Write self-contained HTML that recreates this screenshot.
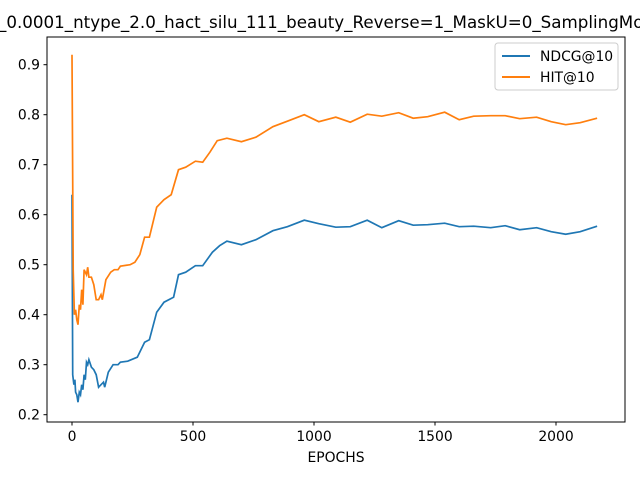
<!DOCTYPE html>
<html><head><meta charset="utf-8"><style>
body{margin:0;background:#fff}
svg{display:block;font-family:"DejaVu Sans","Liberation Sans",sans-serif}
</style></head><body>
<svg width="640" height="480" viewBox="0 0 640 480">
<rect width="640" height="480" fill="#fff"/>
<text x="-2" y="28" font-size="16.7" fill="#000">_0.0001_ntype_2.0_hact_silu_111_beauty_Reverse=1_MaskU=0_SamplingMode</text>
<g id="plot"></g>
<rect x="47" y="37" width="578" height="385" fill="none" stroke="#000" stroke-width="1"/>
<g id="axes"></g>
<text x="336" y="462" font-size="13.9" text-anchor="middle">EPOCHS</text>
<g>
<rect x="495" y="43" width="123" height="47" rx="3" fill="#fff" fill-opacity="0.8" stroke="#ccc"/>
<line x1="502" y1="56" x2="530" y2="56" stroke="#1f77b4" stroke-width="2"/>
<text x="540" y="61" font-size="13.9">NDCG@10</text>
<line x1="502" y1="77" x2="530" y2="77" stroke="#ff7f0e" stroke-width="2"/>
<text x="540" y="82" font-size="13.9">HIT@10</text>
</g>
</svg>
<script>
const hitEpochs=[0,5,10,15,20,25,30,35,40,45,50,60,65,70,80,90,100,110,120,125,140,160,175,190,200,240,260,280,300,320,350,380,410,440,470,510,540,570,600,640,700,760,830,890,960,1020,1090,1150,1220,1280,1350,1410,1470,1540,1600,1660,1730,1790,1850,1920,1980,2040,2100,2170];
const hitValues=[0.92,0.49,0.40,0.41,0.39,0.38,0.42,0.41,0.45,0.42,0.49,0.48,0.495,0.475,0.475,0.46,0.43,0.43,0.44,0.43,0.47,0.485,0.49,0.49,0.497,0.50,0.505,0.52,0.555,0.555,0.615,0.63,0.64,0.69,0.695,0.707,0.705,0.725,0.748,0.753,0.746,0.755,0.776,0.787,0.800,0.786,0.795,0.785,0.801,0.797,0.804,0.793,0.796,0.805,0.79,0.797,0.798,0.798,0.792,0.795,0.786,0.780,0.784,0.793];
const ndcgEpochs=[0,3,8,12,15,20,25,30,35,40,45,50,55,60,65,70,80,90,100,110,120,130,135,150,170,190,200,230,270,300,320,350,380,420,440,470,510,540,580,610,640,700,760,830,890,960,1020,1090,1150,1220,1280,1350,1410,1470,1540,1600,1660,1730,1790,1850,1920,1980,2040,2100,2170];
const ndcgValues=[0.64,0.28,0.26,0.27,0.245,0.24,0.225,0.245,0.24,0.26,0.25,0.28,0.27,0.305,0.30,0.31,0.295,0.29,0.28,0.255,0.26,0.265,0.255,0.285,0.30,0.30,0.305,0.307,0.315,0.345,0.35,0.405,0.425,0.435,0.48,0.485,0.498,0.498,0.525,0.538,0.547,0.54,0.55,0.568,0.576,0.589,0.582,0.575,0.576,0.589,0.574,0.588,0.579,0.58,0.583,0.576,0.577,0.574,0.578,0.57,0.574,0.566,0.561,0.566,0.577];
const xTicks=[0,500,1000,1500,2000];
const yTicks=[0.2,0.3,0.4,0.5,0.6,0.7,0.8,0.9];
const NS="http://www.w3.org/2000/svg";
function xs(v){return 72+v*0.242;}
function ys(v){return 64.7+(0.9-v)*500;}
const plot=document.getElementById('plot'),axes=document.getElementById('axes');
function line(ex,vals,color,name){
  const p=document.createElementNS(NS,'polyline');
  p.setAttribute('points',ex.map((e,i)=>xs(e).toFixed(1)+','+ys(vals[i]).toFixed(1)).join(' '));
  p.setAttribute('fill','none');p.setAttribute('stroke',color);p.setAttribute('stroke-width','1.7');
  
  
  plot.appendChild(p);
}
line(ndcgEpochs,ndcgValues,'#1f77b4','ndcg-line');
line(hitEpochs,hitValues,'#ff7f0e','hit-line');
xTicks.forEach(t=>{
  const l=document.createElementNS(NS,'line');
  l.setAttribute('x1',xs(t));l.setAttribute('x2',xs(t));l.setAttribute('y1',422);l.setAttribute('y2',425.5);l.setAttribute('stroke','#000');
  
  
  axes.appendChild(l);
  const tx=document.createElementNS(NS,'text');
  tx.setAttribute('x',xs(t));tx.setAttribute('y',441);tx.setAttribute('font-size','13.9');tx.setAttribute('text-anchor','middle');
  tx.textContent=t;
  
  
  axes.appendChild(tx);
});
yTicks.forEach(t=>{
  const l=document.createElementNS(NS,'line');
  l.setAttribute('x1',43.5);l.setAttribute('x2',47);l.setAttribute('y1',ys(t));l.setAttribute('y2',ys(t));l.setAttribute('stroke','#000');
  
  
  axes.appendChild(l);
  const tx=document.createElementNS(NS,'text');
  tx.setAttribute('x',40);tx.setAttribute('y',ys(t)+5);tx.setAttribute('font-size','13.9');tx.setAttribute('text-anchor','end');
  tx.textContent=t.toFixed(1);
  
  
  axes.appendChild(tx);
});
</script>
</body></html>
